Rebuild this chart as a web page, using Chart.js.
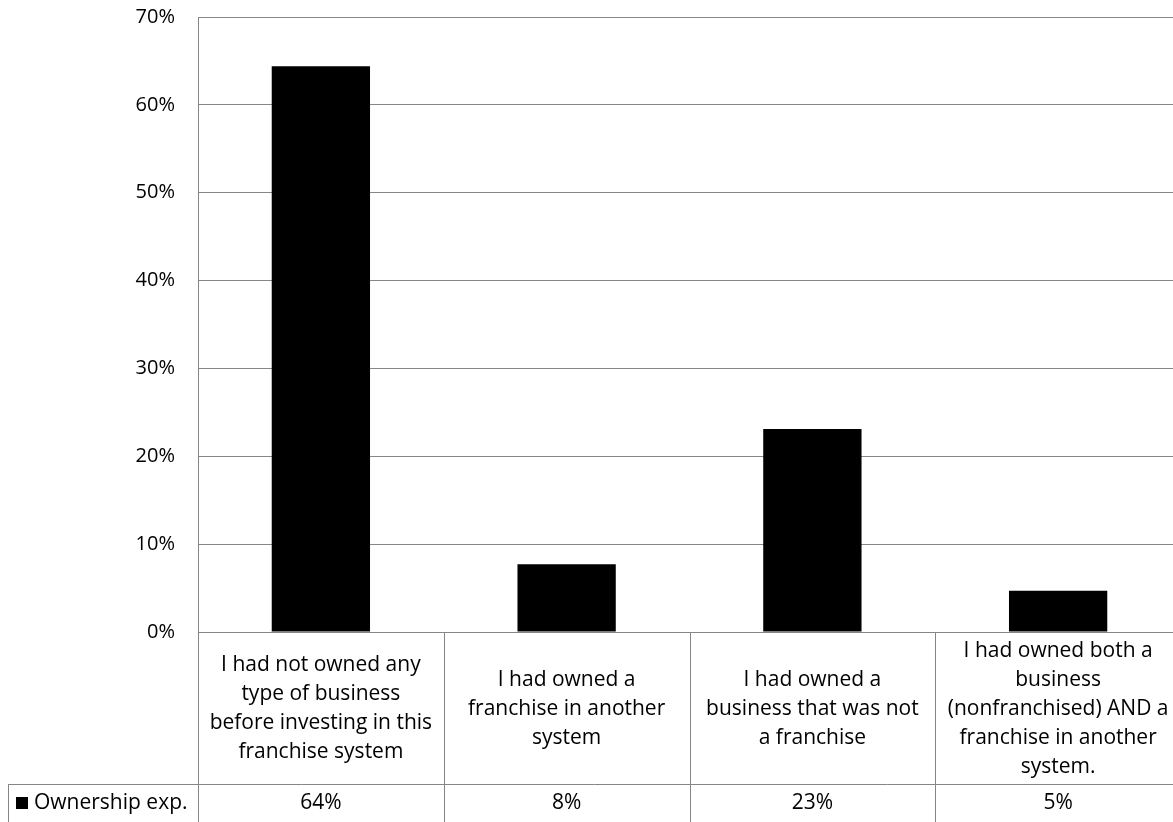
<!DOCTYPE html>
<html>
<head>
<meta charset="utf-8">
<script src="https://cdn.jsdelivr.net/npm/chart.js@4"></script>
<style>
  html, body { margin: 0; padding: 0; background: #fff; overflow: hidden; }
  #wrap { width: 1173px; height: 822px; overflow: hidden; position: relative; }
  canvas { display: block; }
</style>
</head>
<body>
<div id="wrap"><canvas id="c" width="1182" height="822"></canvas></div>
<script>
// ---- data ----
const categories = [
  ["I had not owned any", "type of business", "before investing in this", "franchise system"],
  ["I had owned a", "franchise in another", "system"],
  ["I had owned a", "business that was not", "a franchise"],
  ["I had owned both a", "business", "(nonfranchised) AND a", "franchise in another", "system."]
];
const seriesName = "Ownership exp.";
const values = [64.4, 7.7, 23.1, 4.7];
const tableLabels = ["64%", "8%", "23%", "5%"];
const yTicks = [0, 10, 20, 30, 40, 50, 60, 70];

// ---- style ----
const FONT = "'Open Sans', 'Noto Sans', sans-serif";
const TICK_FS = 20;
const TABLE_FS = 21;
const GRID = '#868686';
const HEADER_H = 152;
const ROW_H = 40;

const tablePlugin = {
  id: 'dataTable',
  afterDraw(chart) {
    const ctx = chart.ctx;
    const ca = chart.chartArea;
    const xs = chart.scales.x;
    const n = categories.length;
    const w = (ca.right - ca.left) / n;
    const top = ca.bottom;
    const rowTop = top + HEADER_H;
    const bottom = rowTop + ROW_H;
    const al = v => Math.round(v) + 0.5;
    ctx.save();
    ctx.strokeStyle = GRID;
    ctx.lineWidth = 1;
    ctx.beginPath();
    for (let i = 0; i <= n; i++) {
      const x = i < n ? xs.getPixelForValue(i) - w / 2 : xs.getPixelForValue(n - 1) + w / 2;
      ctx.moveTo(al(x), top);
      ctx.lineTo(al(x), bottom);
    }
    ctx.moveTo(8, al(rowTop));
    ctx.lineTo(ca.right, al(rowTop));
    ctx.moveTo(8.5, al(rowTop));
    ctx.lineTo(8.5, bottom);
    ctx.stroke();

    ctx.fillStyle = '#000';
    ctx.font = TABLE_FS + 'px ' + FONT;
    ctx.textAlign = 'center';
    ctx.textBaseline = 'middle';
    const lh = 29;
    const midH = top + 77;
    categories.forEach((lines, i) => {
      const cx = xs.getPixelForValue(i);
      const y0 = midH - (lines.length - 1) * lh / 2;
      lines.forEach((t, k) => ctx.fillText(t, cx, y0 + k * lh));
      ctx.fillText(tableLabels[i], cx, rowTop + 19);
    });
    ctx.fillRect(16, rowTop + 13, 12, 12);
    ctx.textAlign = 'left';
    ctx.fillText(seriesName, 34, rowTop + 19);
    ctx.restore();
  }
};

new Chart(document.getElementById('c'), {
  type: 'bar',
  data: {
    labels: categories.map(c => c.join(' ')),
    datasets: [{
      label: seriesName,
      data: values,
      backgroundColor: '#000',
      borderWidth: 0,
      barPercentage: 0.4,
      categoryPercentage: 1.0
    }]
  },
  options: {
    responsive: false,
    animation: false,
    layout: { padding: { top: 17, bottom: 190, left: 0, right: 1 } },
    plugins: { legend: { display: false }, tooltip: { enabled: false } },
    scales: {
      x: { display: false, offset: true },
      y: {
        min: 0, max: 70,
        afterFit(scale) { scale.width = 198; scale.paddingTop = 0; scale.paddingBottom = 0; },
        afterBuildTicks(scale) { scale.ticks = yTicks.map(v => ({ value: v })); },
        grid: { color: GRID, lineWidth: 1, drawTicks: false },
        border: { display: true, color: GRID, width: 1 },
        ticks: {
          padding: 23,
          color: '#000',
          font: { family: FONT, size: TICK_FS },
          callback: v => v + '%'
        }
      }
    }
  },
  plugins: [tablePlugin]
});
</script>
</body>
</html>
